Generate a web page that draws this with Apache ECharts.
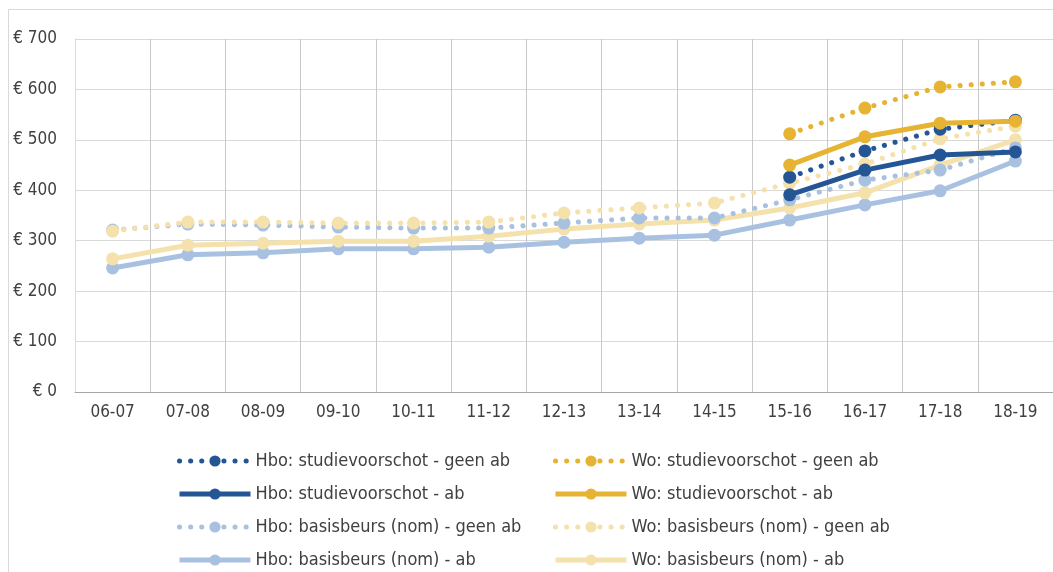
<!DOCTYPE html>
<html>
<head>
<meta charset="utf-8">
<script src="https://cdn.jsdelivr.net/npm/echarts@6/dist/echarts.min.js"></script>
<style>
  html, body { margin: 0; padding: 0; background: #fff; }
  #chart { width: 1053px; height: 572px; }
</style>
</head>
<body>
<div id="chart"></div>
<script>
const years = ['06-07','07-08','08-09','09-10','10-11','11-12','12-13','13-14','14-15','15-16','16-17','17-18','18-19'];
const yTicks = [0, 100, 200, 300, 400, 500, 600, 700];

const hboSvGeen = [null,null,null,null,null,null,null,null,null,426,478,521,539];
const hboSvAb   = [null,null,null,null,null,null,null,null,null,391,440,470,476];
const hboBbGeen = [321,333,331,327,325,325,335,345,345,381,420,440,484];
const hboBbAb   = [246,272,276,284,284,287,297,305,311,341,371,399,458];
const woSvGeen  = [null,null,null,null,null,null,null,null,null,512,563,605,615];
const woSvAb    = [null,null,null,null,null,null,null,null,null,450,506,533,537];
const woBbGeen  = [319,337,337,335,335,337,355,365,375,414,452,502,527];
const woBbAb    = [264,291,295,299,299,309,323,333,341,365,395,450,500];

const DARK = '#245594', GOLD = '#E6B432', LIGHT = '#A9C1E1', BEIGE = '#F4E1AB';
const font = 'DejaVu Sans Condensed';

function mk(name, data, color, dotted) {
    return {
        name: name,
        type: 'line',
        data: data,
        symbol: 'circle',
        symbolSize: 13,
        connectNulls: false,
        itemStyle: { color: color },
        lineStyle: dotted
            ? { color: color, width: 5, type: [0.1, 11], cap: 'round' }
            : { color: color, width: 5 },
        emphasis: { disabled: true }
    };
}

const series = [
    mk('Hbo: basisbeurs (nom) - ab', hboBbAb, LIGHT, false),
    mk('Wo: basisbeurs (nom) - ab', woBbAb, BEIGE, false),
    mk('Hbo: basisbeurs (nom) - geen ab', hboBbGeen, LIGHT, true),
    mk('Wo: basisbeurs (nom) - geen ab', woBbGeen, BEIGE, true),
    mk('Hbo: studievoorschot - ab', hboSvAb, DARK, false),
    mk('Hbo: studievoorschot - geen ab', hboSvGeen, DARK, true),
    mk('Wo: studievoorschot - ab', woSvAb, GOLD, false),
    mk('Wo: studievoorschot - geen ab', woSvGeen, GOLD, true)
];

const legendBase = {
    orient: 'vertical',
    top: 452,
    height: 130,
    padding: 0,
    itemWidth: 71,
    itemHeight: 14,
    itemGap: 15,
    lineStyle: { width: 5 },
    textStyle: { fontFamily: font, fontSize: 18, lineHeight: 14, color: '#404040' },
    selectedMode: false
};

let myChart = echarts.init(document.getElementById('chart'));
var option = {
    backgroundColor: '#fff',
    animation: false,
    textStyle: { fontFamily: font },
    graphic: [{
        type: 'rect',
        shape: { x: 8.5, y: 9.5, width: 1200, height: 700 },
        style: { fill: 'none', stroke: '#d9d9d9', lineWidth: 1 },
        silent: true
    }],
    legend: [
        Object.assign({}, legendBase, {
            left: 177,
            data: ['Hbo: studievoorschot - geen ab', 'Hbo: studievoorschot - ab',
                   'Hbo: basisbeurs (nom) - geen ab', 'Hbo: basisbeurs (nom) - ab']
        }),
        Object.assign({}, legendBase, {
            left: 553,
            data: ['Wo: studievoorschot - geen ab', 'Wo: studievoorschot - ab',
                   'Wo: basisbeurs (nom) - geen ab', 'Wo: basisbeurs (nom) - ab']
        })
    ],
    grid: { left: 75, top: 39, width: 979, height: 353 },
    xAxis: {
        type: 'category',
        data: years,
        boundaryGap: true,
        axisLine: { lineStyle: { color: '#a6a6a6', width: 1 } },
        axisTick: { show: false },
        splitLine: { show: true, interval: 0, lineStyle: { color: '#c8c8c8' } },
        axisLabel: { fontFamily: font, fontSize: 17, color: '#404040', margin: 12, interval: 0 }
    },
    yAxis: {
        type: 'value',
        min: yTicks[0],
        max: yTicks[yTicks.length - 1],
        interval: 100,
        axisLine: { show: true, lineStyle: { color: '#d9d9d9' } },
        axisTick: { show: false },
        splitLine: { lineStyle: { color: '#d9d9d9' } },
        axisLabel: { fontFamily: font, fontSize: 17, color: '#404040', margin: 18,
            formatter: function (v) { return '€ ' + v; } }
    },
    series: series
};
myChart.setOption(option);
</script>
</body>
</html>
